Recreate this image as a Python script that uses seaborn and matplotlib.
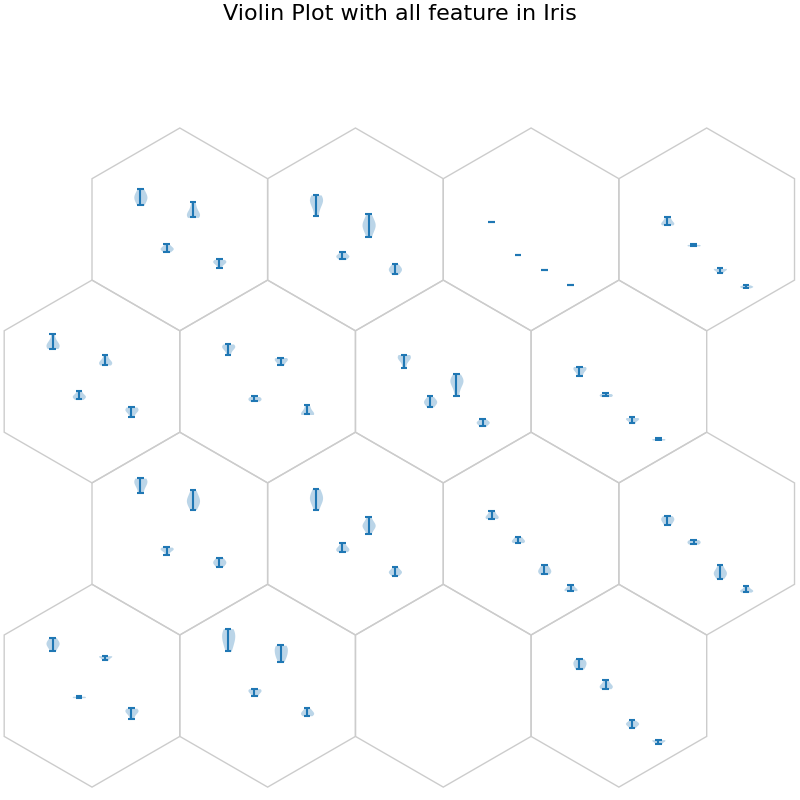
import numpy as np
import pandas as pd
import matplotlib
matplotlib.use("Agg")
import matplotlib.pyplot as plt
from matplotlib.patches import RegularPolygon
import seaborn as sns

features = ["sepal length", "sepal width", "petal length", "petal width"]
n_rows, n_cols = 4, 4

# one list of samples per hex node (row major), node 14 got no samples
sepal_length = [
    [5.6, 5.9, 6.1, 6.2, 6.4, 6.7], [4.9, 5.5, 5.8, 6.0, 6.1, 6.3], [4.5], [4.3, 4.4, 4.4, 4.6, 4.8],
    [6.2, 6.3, 6.4, 6.5, 6.7, 7.2], [5.8, 6.2, 6.3, 6.4, 6.5], [4.9, 5.5, 5.6, 5.7, 5.8], [4.4, 4.8, 4.9, 5.0],
    [6.7, 7.2, 7.4, 7.6, 7.7], [5.6, 6.1, 6.3, 6.4, 6.7, 7.0], [5.0, 5.1, 5.2, 5.5], [4.6, 4.9, 5.0, 5.2],
    [6.3, 6.7, 6.8, 6.9, 7.2], [6.3, 6.7, 7.0, 7.2, 7.4, 7.7, 7.8], [], [5.1, 5.3, 5.5, 5.6, 5.8],
]
sepal_width = [
    [2.5, 2.7, 2.7, 2.8, 3.0], [2.0, 2.2, 2.2, 2.3, 2.5], [2.3], [2.9, 3.0],
    [2.8, 3.0, 3.0, 3.1, 3.4], [2.7, 2.8, 2.9, 3.0], [2.3, 2.5, 2.6, 2.7, 2.8, 3.0], [3.0, 3.1, 3.2],
    [2.6, 2.9, 3.0, 3.0, 3.1], [2.8, 2.9, 3.0, 3.1, 3.4], [3.4, 3.5, 3.6, 3.8], [3.3, 3.4, 3.5, 3.6],
    [3.2, 3.3], [3.3, 3.6, 3.7, 3.8], [], [3.8, 3.9, 4.0, 4.1, 4.4],
]
petal_length = [
    [4.8, 4.9, 5.0, 5.1, 5.4, 5.8], [3.5, 4.0, 4.2, 4.4, 4.5, 5.0], [1.3], [1.1, 1.3, 1.4, 1.4],
    [5.1, 5.2, 5.3, 5.4, 5.8], [5.1, 5.4, 5.5, 5.6], [3.0, 3.5, 3.9, 4.0, 4.1, 4.2, 4.5], [1.2, 1.5, 1.5, 1.6],
    [5.6, 6.0, 6.1, 6.3, 6.5, 6.9], [4.0, 4.4, 4.5, 4.6, 4.7, 5.1], [1.3, 1.5, 1.6, 1.9], [1.0, 1.3, 1.4, 1.5, 1.9],
    [5.7, 5.9, 6.0, 6.0], [5.6, 6.0, 6.1, 6.4, 6.6, 6.7], [], [1.2, 1.4, 1.5, 1.5, 1.7],
]
petal_width = [
    [1.4, 1.8, 1.8, 1.9, 2.0], [1.0, 1.2, 1.3, 1.4, 1.5, 1.7], [0.3], [0.1, 0.2, 0.2, 0.3],
    [1.6, 2.0, 2.1, 2.2, 2.3], [1.8, 1.8, 1.9, 2.1, 2.4], [1.0, 1.2, 1.3, 1.3, 1.5], [0.1, 0.2],
    [1.8, 2.0, 2.1, 2.2, 2.4], [1.2, 1.4, 1.5, 1.5, 1.8], [0.2, 0.2, 0.3, 0.4, 0.6], [0.1, 0.2, 0.2, 0.3, 0.5],
    [1.8, 2.2, 2.3, 2.4, 2.5], [2.0, 2.1, 2.2, 2.3, 2.5], [], [0.1, 0.3, 0.4, 0.4],
]

sns.set_theme(style="white")

blue = "#1f77b4"
px = 101.4  # pixels per hex radius
fig = plt.figure(figsize=(8, 8), dpi=100)
ax = fig.add_axes([0, 0, 1, 1])
ax.set_xlim(-92 / px, (800 - 92) / px)
ax.set_ylim(-(800 - 229.4) / px, 229.4 / px)
ax.set_xticks([])
ax.set_yticks([])
ax.axis("off")

inset_w = 105.2 / px
inset_h = 120 / px

for node in range(n_rows * n_cols):
    r, c = divmod(node, n_cols)
    cx = np.sqrt(3) * (c + (0.5 if r % 2 == 0 else 0))
    cy = -1.5 * r
    ax.add_patch(RegularPolygon((cx, cy), 6, radius=1, orientation=0,
                                fill=False, edgecolor="#cccccc", lw=1))

    cols = [sepal_length[node], sepal_width[node], petal_length[node], petal_width[node]]
    if not any(cols):
        continue
    df = pd.DataFrame([(f, v) for f, vals in zip(features, cols) for v in vals],
                      columns=["feature", "value"])

    iax = ax.inset_axes([cx - inset_w / 2, cy - 60 / px, inset_w, inset_h],
                        transform=ax.transData)
    spread = df[df.groupby("feature")["value"].transform("nunique") > 1]
    if len(spread):
        sns.violinplot(data=spread, x="feature", y="value", order=features, ax=iax,
                       inner=None, cut=0, density_norm="width", width=0.5,
                       color=blue, saturation=1, linewidth=0, alpha=0.3)

    lo = df.groupby("feature")["value"].min().reindex(features).values
    hi = df.groupby("feature")["value"].max().reindex(features).values
    pos = np.arange(len(features))
    iax.vlines(pos, lo, hi, color=blue, lw=1.5)
    iax.hlines(lo, pos - 0.125, pos + 0.125, color=blue, lw=1.5)
    iax.hlines(hi, pos - 0.125, pos + 0.125, color=blue, lw=1.5)
    iax.set_xlim(-0.5, 3.5)
    iax.set_ylim(0, 8)
    iax.set_xticks([])
    iax.set_yticks([])
    iax.set_xlabel("")
    iax.set_ylabel("")
    iax.axis("off")

fig.suptitle("Violin Plot with all feature in Iris", fontsize=16, y=0.995, color="black")
fig.savefig("out.png", dpi=100)
